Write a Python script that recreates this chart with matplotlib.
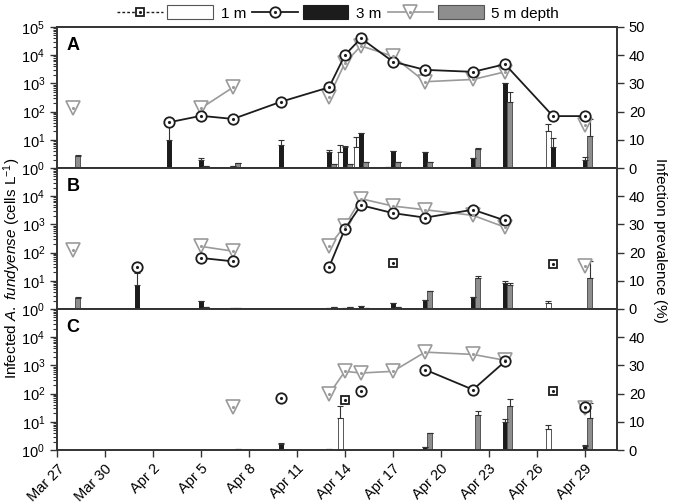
import numpy as np
import pandas as pd
import matplotlib
matplotlib.use("Agg")
import matplotlib.pyplot as plt
import matplotlib.dates as mdates
from matplotlib.lines import Line2D
from matplotlib.patches import Patch
from matplotlib.legend_handler import HandlerTuple
from matplotlib.ticker import LogLocator, NullFormatter, FixedLocator

plt.rcParams["font.family"] = ["Liberation Sans", "DejaVu Sans"]
plt.rcParams["mathtext.fontset"] = "custom"
plt.rcParams["mathtext.rm"] = "Liberation Sans"
plt.rcParams["mathtext.it"] = "Liberation Sans:italic"
plt.rcParams["mathtext.bf"] = "Liberation Sans:bold"

nan = np.nan

# sampling dates
dates = pd.to_datetime(["2010-03-28", "2010-04-01", "2010-04-03", "2010-04-05",
                        "2010-04-07", "2010-04-10", "2010-04-13", "2010-04-14",
                        "2010-04-15", "2010-04-17", "2010-04-19", "2010-04-22",
                        "2010-04-24", "2010-04-27", "2010-04-29"])
tick_dates = pd.date_range("2010-03-27", periods=12, freq="3D")
tick_labels = [d.strftime("%b ") + str(d.day) for d in tick_dates]
panel_names = ["A", "B", "C"]

#                 Mar28 Apr1  Apr3  Apr5  Apr7  Apr10 Apr13 Apr14 Apr15 Apr17 Apr19 Apr22 Apr24 Apr27 Apr29
# infection prevalence (%), right axis
prev_1m = [
    [nan, nan, nan, nan, nan, nan, nan, nan, nan, nan, nan, nan, nan, nan, nan],
    [nan, nan, nan, nan, nan, nan, nan, nan, nan, 16.4, nan, nan, nan, 16.0, nan],
    [nan, nan, nan, nan, nan, nan, nan, 17.9, nan, nan, nan, nan, nan, 20.8, nan],
]
prev_3m = [
    [nan, nan, 16.2, 18.5, 17.4, 23.5, 28.6, 40.1, 46.0, 37.7, 34.8, 34.1, 36.8, 18.4, 18.4],
    [nan, 14.8, nan, 18.1, 16.9, nan, 14.8, 28.5, 36.8, 34.0, 32.4, 35.2, 31.4, nan, nan],
    [nan, nan, nan, nan, nan, 18.3, nan, nan, 21.0, nan, 28.5, 21.4, 31.4, nan, 15.3],
]
prev_5m = [
    [21.4, nan, nan, 21.2, 28.6, nan, 25.3, 37.3, 43.3, 39.6, 30.6, 31.4, 34.1, nan, 15.2],
    [21.0, nan, nan, 22.2, 20.5, nan, 22.2, 29.6, 39.1, 36.5, 35.2, 33.2, 29.0, nan, 15.1],
    [nan, nan, nan, nan, 15.3, nan, 19.8, 27.9, 27.3, 27.9, 34.7, 33.9, 31.8, nan, 14.9],
]

# infected cells (cells L-1), left axis; *_top = top of error bar
cells_1m = [
    [nan, nan, nan, nan, nan, nan, nan, 3.8, 5.7, 1.1, nan, nan, nan, 20.5, nan],
    [nan, nan, nan, nan, nan, nan, nan, nan, nan, nan, nan, nan, nan, 1.7, nan],
    [nan, nan, nan, nan, nan, nan, nan, 13.2, nan, nan, nan, nan, nan, 5.5, nan],
]
cells_1m_top = [
    [nan, nan, nan, nan, nan, nan, nan, 6.5, 12.9, nan, nan, nan, nan, 35, nan],
    [nan, nan, nan, nan, nan, nan, nan, nan, nan, nan, nan, nan, nan, 1.9, nan],
    [nan, nan, nan, nan, nan, nan, nan, 36.7, nan, nan, nan, nan, nan, 7.6, nan],
]
cells_3m = [
    [nan, nan, 9.8, 2.0, 1.2, 6.5, 3.8, 5.7, 17, 4.0, 3.8, 2.3, 1000, 5.7, 2.0],
    [nan, 7.3, nan, 1.86, 1.1, nan, 1.1, 1.1, 1.24, 1.7, 2.1, 2.6, 8.1, nan, nan],
    [nan, nan, nan, nan, nan, 1.63, 1.1, nan, nan, nan, 1.3, nan, 10, nan, 1.42],
]
cells_3m_top = [
    [nan, nan, 43, 2.2, nan, 9.8, 4.2, 6.0, 18, nan, nan, nan, nan, 11.3, 2.5],
    [nan, 18.5, nan, nan, nan, nan, nan, nan, nan, nan, nan, nan, 9.7, nan, nan],
    [nan, nan, nan, nan, nan, 1.8, nan, nan, nan, nan, nan, nan, 13, nan, 1.5],
]
cells_5m = [
    [2.7, nan, nan, 1.2, 1.47, nan, 1.39, 1.4, 1.67, 1.67, 1.6, 4.6, 224, nan, 14],
    [2.4, nan, nan, 1.2, 1.05, nan, 1.2, 1.15, 1.1, 1.2, 4.2, 12.7, 7.1, nan, 12.7],
    [nan, nan, nan, nan, 1.05, nan, nan, nan, nan, nan, 3.9, 17.3, 36.7, nan, 13.2],
]
cells_5m_top = [
    [2.9, nan, nan, nan, nan, nan, nan, nan, nan, nan, nan, 5.0, 510, nan, 53],
    [2.6, nan, nan, nan, nan, nan, nan, nan, nan, nan, 4.5, 15, 8.6, nan, 52],
    [nan, nan, nan, nan, nan, nan, nan, nan, nan, nan, 4.1, 24, 63, nan, 48],
]

grey_line = "#9a9a9a"
grey_bar = "#8e8e8e"
dark = "#1c1c1c"
spine_c = "#333333"

x = mdates.date2num(dates)
bw = 0.3

fig = plt.figure(figsize=(6.75, 5.03), dpi=100)
gs = fig.add_gridspec(3, 1, left=57 / 675, right=617 / 675, top=1 - 27 / 503,
                      bottom=1 - 450 / 503, hspace=0)


def up_err(vals, tops):
    vals = np.asarray(vals, float)
    tops = np.asarray(tops, float)
    e = np.where(np.isnan(tops), 0, tops - np.nan_to_num(vals))
    return [np.zeros_like(e), np.clip(e, 0, None)]


for i in range(3):
    ax = fig.add_subplot(gs[i])
    ax.set_yscale("log")
    ekw = dict(ecolor=spine_c, elinewidth=0.8, capsize=2, capthick=0.8)
    for off, vals, tops, fc, ec in [(-bw, cells_1m[i], cells_1m_top[i], "white", "#555555"),
                                    (0, cells_3m[i], cells_3m_top[i], dark, dark),
                                    (bw, cells_5m[i], cells_5m_top[i], grey_bar, "#555555")]:
        v = np.asarray(vals, float)
        ax.bar(x + off, np.nan_to_num(v), width=bw, color=fc, edgecolor=ec, linewidth=0.7,
               yerr=up_err(vals, tops), error_kw=ekw, zorder=2)
    ax.set_ylim(1, 1e5)
    ax.set_xlim(mdates.date2num(pd.Timestamp("2010-03-27")),
                mdates.date2num(pd.Timestamp("2010-05-01")))
    ax.yaxis.set_major_locator(FixedLocator([10.0 ** k for k in range(6 if i == 0 else 5)]))
    ax.yaxis.set_minor_locator(LogLocator(base=10, subs=np.arange(2, 10), numticks=20))
    ax.yaxis.set_minor_formatter(NullFormatter())
    ax.set_xticks(mdates.date2num(tick_dates))
    if i == 2:
        ax.set_xticklabels(tick_labels, rotation=45, ha="right", rotation_mode="anchor")
    else:
        ax.set_xticklabels([])
    ax.tick_params(axis="both", which="major", direction="out", length=5, width=1,
                   color=spine_c, labelsize=10.5)
    ax.tick_params(axis="y", which="minor", direction="out", length=3, width=0.8, color=spine_c)
    for s in ax.spines.values():
        s.set_color(spine_c)
        s.set_linewidth(1.2)
    ax.text(0.017, 0.93, panel_names[i], transform=ax.transAxes, fontsize=13,
            fontweight="bold", va="top", ha="left")

    ax2 = ax.twinx()
    ax2.set_ylim(0, 50)
    ax2.set_yticks(range(0, 60 if i == 0 else 50, 10))
    ax2.tick_params(axis="y", direction="out", length=5, width=1, color=spine_c, labelsize=10.5)
    for s in ax2.spines.values():
        s.set_color(spine_c)
        s.set_linewidth(1.2)
    ax2.plot(x, prev_1m[i], linestyle=(0, (2, 1.5)), color=dark, lw=1, marker="s", ms=6,
             mfc="white", mec=dark, mew=1.3, zorder=3)
    ax2.plot(x, prev_5m[i], color=grey_line, lw=1.2, marker="v", ms=10, mfc="white",
             mec=grey_line, mew=1.2, zorder=3)
    ax2.plot(x, prev_3m[i], color=dark, lw=1.3, marker="o", ms=7.5, mfc="white",
             mec=dark, mew=1.3, zorder=4)
    ax2.plot(x, prev_1m[i], ls="none", marker=".", ms=2.5, color=dark, zorder=5)
    ax2.plot(x, prev_5m[i], ls="none", marker=".", ms=2.5, color=grey_line, zorder=5)
    ax2.plot(x, prev_3m[i], ls="none", marker=".", ms=2.5, color=dark, zorder=5)

fig.text(12 / 675, 1 - 268 / 503, r"Infected $\it{A.\ fundyense}$ (cells L$^{-1}$)",
         rotation=90, va="center", ha="center", fontsize=11)
fig.text(660 / 675, 1 - 240 / 503, "Infection prevalence (%)", rotation=270,
         va="center", ha="center", fontsize=11)

# legend
def pair(line_kw, dot_color, patch_kw):
    ln = Line2D([], [], **line_kw)
    dot = Line2D([], [], ls="none", marker=".", ms=2.5, color=dot_color)
    return ((ln, dot), Patch(**patch_kw))

h1 = pair(dict(ls=(0, (2, 1.5)), color=dark, lw=1, marker="s", ms=6, mfc="white", mec=dark, mew=1.3),
          dark, dict(facecolor="white", edgecolor="#555555", lw=0.8))
h2 = pair(dict(color=dark, lw=1.3, marker="o", ms=7.5, mfc="white", mec=dark, mew=1.3),
          dark, dict(facecolor=dark, edgecolor=dark, lw=0.8))
h3 = pair(dict(color=grey_line, lw=1.2, marker="v", ms=10, mfc="white", mec=grey_line, mew=1.2),
          grey_line, dict(facecolor=grey_bar, edgecolor="#555555", lw=0.8))
hm = {h: HandlerTuple(ndivide=None, pad=0.3) for h in (h1, h2, h3)}
fig.legend([h1, h2, h3], ["1 m", "3 m", "5 m depth"], handler_map=hm, ncol=3,
           loc="center", bbox_to_anchor=(338 / 675, 1 - 13 / 503), frameon=False,
           fontsize=11, handlelength=6.3, handleheight=1.0, handletextpad=0.5,
           columnspacing=0.4, borderpad=0)

fig.savefig("out.png", dpi=100)
